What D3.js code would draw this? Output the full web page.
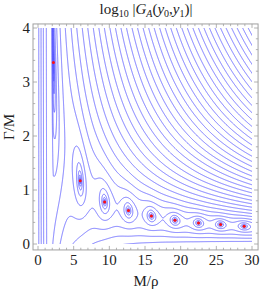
<!DOCTYPE html>
<html>
<head>
<meta charset="utf-8">
<script src="https://cdn.jsdelivr.net/npm/d3@7"></script>
<style>
  body { margin: 0; background: #fff; }
  svg { display: block; }
</style>
</head>
<body>
<script>
// Zeros of G_A (the red dots): M/rho and Gamma/M
const zeroX = [2.16, 5.92, 9.34, 12.68, 15.9, 19.2, 22.5, 25.6, 28.9];
const zeroY = [3.36, 1.17, 0.78, 0.62, 0.52, 0.44, 0.39, 0.36, 0.33];

// Where contour levels meet the bottom edge (Gamma/M = 0), left to right
const edgeX = [0.18, 0.52, 0.84, 1.22, 1.92, 3.1, 4.9, 7.7, 12.5, 30];
const edgeLevel = [-5, -4, -3, -2, -1, 0, 1, 2, 3, 3.85];

// Axis ticks
const xTicks = [0, 5, 10, 15, 20, 25, 30];
const yTicks = [0, 1, 2, 3, 4];
const xMinor = d3.range(0, 31, 1);
const yMinor = d3.range(0, 4.01, 0.2);

const width = 262, height = 291;

const xScale = d3.scaleLinear().domain([0, 30]).range([38, 252]);
const yScale = d3.scaleLinear().domain([0, 4]).range([244, 28]);

// monotone cubic through the given points (Fritsch-Carlson), linear outside
function monotone(xs, ys) {
    const n = xs.length, d = [], m = [];
    for (let i = 0; i < n - 1; i++) d.push((ys[i + 1] - ys[i]) / (xs[i + 1] - xs[i]));
    m[0] = d[0];
    m[n - 1] = d[n - 2];
    for (let i = 1; i < n - 1; i++) {
        m[i] = d[i - 1] * d[i] <= 0 ? 0 : 2 / (1 / d[i - 1] + 1 / d[i]);
    }
    return function(x) {
        if (x <= xs[0]) return ys[0] + m[0] * (x - xs[0]);
        if (x >= xs[n - 1]) return ys[n - 1] + m[n - 1] * (x - xs[n - 1]);
        const i = d3.bisectRight(xs, x) - 1;
        const h = xs[i + 1] - xs[i], t = (x - xs[i]) / h, t2 = t * t, t3 = t2 * t;
        return (2 * t3 - 3 * t2 + 1) * ys[i] + (t3 - 2 * t2 + t) * h * m[i]
            + (-2 * t3 + 3 * t2) * ys[i + 1] + (t3 - t2) * h * m[i + 1];
    };
}

// 1/(Gamma/M) along the valley through the zeros, phase so that zeros sit on the dots
const rowInv = monotone([1.9].concat(zeroX), [0].concat(zeroY.map(v => 1 / v)));
const phase = monotone(zeroX, zeroX.map((_, i) => (2 * i + 1) * Math.PI));
const edge = monotone(edgeX, edgeLevel);

// model of log|G| in units of one contour step:
// upper branch a(x,y), lower branch linear in y from the edge level to the valley
const c = 0.82, y0 = 0.82, a0 = -5, kappa = 0.55;

function upper(x, y) {
    return c * x * Math.log(y + y0) + a0;
}

// grid
const gx0 = -0.1, gdx = 0.05, nx = 605;
const gy0 = 4.05, gdy = 0.0082, ny = 501;

const values = new Float64Array(nx * ny);
for (let i = 0; i < nx; i++) {
    const x = gx0 + i * gdx;
    const e = edge(x);
    const eb = Math.max(e, -1.2);
    const wall = e - eb;
    const R = Math.max(0, rowInv(x));
    const aRow = upper(x, Math.min(R > 0 ? 1 / R : 6, 6));
    const ph = phase(x);
    for (let j = 0; j < ny; j++) {
        const y = gy0 - j * gdy;
        const a = upper(x, y);
        const D = a - eb - y * R * (aRow - eb);
        let F;
        if (D > 0) {
            const r = Math.exp(-kappa * D);
            F = a + 0.5 * Math.log(1 + r * r + 2 * r * Math.cos(ph)) / kappa;
        } else {
            const r = Math.exp(kappa * D);
            F = a - D + 0.5 * Math.log(1 + r * r + 2 * r * Math.cos(ph)) / kappa;
        }
        if (!isFinite(F) || F < -9) F = -9;
        values[i + j * nx] = F + wall;
    }
}

const svg = d3.select("body").append("svg")
    .attr("width", width)
    .attr("height", height);

svg.append("clipPath")
    .attr("id", "plotClip")
    .append("rect")
    .attr("x", xScale(0))
    .attr("y", yScale(4))
    .attr("width", xScale(30) - xScale(0))
    .attr("height", yScale(0) - yScale(4));

const toScreen = d3.geoTransform({
    point: function(px, py) {
        this.stream.point(xScale(gx0 + (px - 0.5) * gdx), yScale(gy0 - (py - 0.5) * gdy));
    }
});

const contours = d3.contours()
    .size([nx, ny])
    .thresholds(d3.range(-8, 40, 1))(values);

svg.append("g")
    .attr("clip-path", "url(#plotClip)")
    .selectAll("path")
    .data(contours)
    .enter().append("path")
    .attr("d", d3.geoPath(toScreen))
    .attr("fill", "none")
    .attr("stroke", "#5c5cff")
    .attr("stroke-width", 0.85)
    .attr("stroke-linejoin", "round");

// red dots on the zeros
svg.append("g")
    .selectAll("circle")
    .data(zeroX)
    .enter().append("circle")
    .attr("cx", d => xScale(d))
    .attr("cy", (d, i) => yScale(zeroY[i]))
    .attr("r", 1.5)
    .attr("fill", "#ff1010");

// frame with padding
const fx0 = xScale(-0.7), fx1 = xScale(30.85), fy0 = yScale(4.075), fy1 = yScale(-0.11);

svg.append("rect")
    .attr("x", fx0)
    .attr("y", fy0)
    .attr("width", fx1 - fx0)
    .attr("height", fy1 - fy0)
    .attr("fill", "none")
    .attr("stroke", "#a0a0a0")
    .attr("stroke-width", 1);

const ticks = svg.append("g")
    .attr("stroke", "#a0a0a0")
    .attr("stroke-width", 0.8);

xMinor.forEach(v => {
    const len = xTicks.includes(v) ? 4 : 2.2;
    ticks.append("line").attr("x1", xScale(v)).attr("x2", xScale(v)).attr("y1", fy1).attr("y2", fy1 - len);
    ticks.append("line").attr("x1", xScale(v)).attr("x2", xScale(v)).attr("y1", fy0).attr("y2", fy0 + len);
});

yMinor.forEach(v => {
    const major = yTicks.some(t => Math.abs(t - v) < 1e-6);
    const len = major ? 4 : 2.2;
    ticks.append("line").attr("x1", fx0).attr("x2", fx0 + len).attr("y1", yScale(v)).attr("y2", yScale(v));
    ticks.append("line").attr("x1", fx1).attr("x2", fx1 - len).attr("y1", yScale(v)).attr("y2", yScale(v));
});

const serif = "'Liberation Serif', 'DejaVu Serif', serif";

svg.append("g")
    .selectAll("text")
    .data(xTicks)
    .enter().append("text")
    .attr("x", d => xScale(d))
    .attr("y", 265)
    .attr("text-anchor", "middle")
    .attr("font-family", serif)
    .attr("font-size", 15)
    .attr("fill", "#222")
    .text(d => d);

svg.append("g")
    .selectAll("text")
    .data(yTicks)
    .enter().append("text")
    .attr("x", 30)
    .attr("y", d => yScale(d) + 5)
    .attr("text-anchor", "end")
    .attr("font-family", serif)
    .attr("font-size", 15)
    .attr("fill", "#222")
    .text(d => d);

// axis labels
svg.append("text")
    .attr("x", 146)
    .attr("y", 286)
    .attr("text-anchor", "middle")
    .attr("font-family", serif)
    .attr("font-size", 15)
    .attr("fill", "#222")
    .text("M/\u03c1");

svg.append("text")
    .attr("transform", "translate(14,127) rotate(-90)")
    .attr("text-anchor", "middle")
    .attr("font-family", serif)
    .attr("font-size", 15)
    .attr("fill", "#222")
    .text("\u0393/M");

// title: log10 |G_A(y0,y1)|
const title = svg.append("text")
    .attr("x", 146)
    .attr("y", 14)
    .attr("text-anchor", "middle")
    .attr("font-family", serif)
    .attr("font-size", 15)
    .attr("fill", "#222");

const parts = [
    ["log", "n"], ["10", "s"], [" |", "n"], ["G", "i"], ["A", "si"], ["(", "n"],
    ["y", "i"], ["0", "s"], [",", "n"], ["y", "i"], ["1", "s"], [")|", "n"]
];
let sub = false;
parts.forEach(p => {
    const isSub = p[1].startsWith("s");
    const t = title.append("tspan").text(p[0]);
    if (isSub && !sub) t.attr("dy", 3);
    if (!isSub && sub) t.attr("dy", -3);
    if (isSub) t.attr("font-size", 10);
    if (p[1].endsWith("i")) t.attr("font-style", "italic");
    sub = isSub;
});
</script>
</body>
</html>
